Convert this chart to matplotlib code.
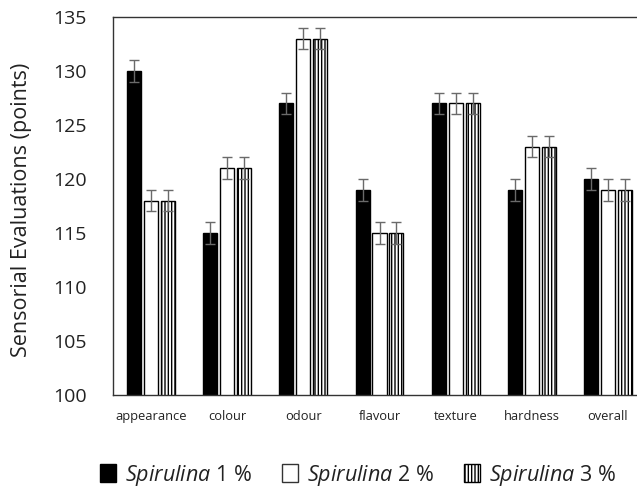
import matplotlib
matplotlib.use("Agg")
import matplotlib.pyplot as plt
import numpy as np
from matplotlib.patches import Patch

categories = ["appearance", "colour", "odour", "flavour", "texture", "hardness", "overall"]
spirulina_1 = [130, 115, 127, 119, 127, 119, 120]
spirulina_2 = [118, 121, 133, 115, 127, 123, 119]
spirulina_3 = [118, 121, 133, 115, 127, 123, 119]
err_1 = [1, 1, 1, 1, 1, 1, 1]
err_2 = [1, 1, 1, 1, 1, 1, 1]
err_3 = [1, 1, 1, 1, 1, 1, 1]
series_names = ["1 %", "2 %", "3 %"]
yticks = [100, 105, 110, 115, 120, 125, 130, 135]

FONT = 'Open Sans'
plt.rcParams['font.family'] = [FONT, 'DejaVu Sans']
plt.rcParams['mathtext.fontset'] = 'custom'
plt.rcParams['mathtext.it'] = FONT + ':italic'
plt.rcParams['mathtext.rm'] = FONT
plt.rcParams['hatch.linewidth'] = 1.0

fig = plt.figure(figsize=(6.37, 4.95), dpi=100)
W, H = 637, 495
left, right, top, bottom = 113, 646, 17, 395
ax = fig.add_axes([left / W, 1 - bottom / H, (right - left) / W, (bottom - top) / H])

x = np.arange(len(categories))
width = 0.185
off = 0.222
ekw = dict(ecolor="#6a6a6a", elinewidth=1.0, capsize=3.5, capthick=1.0)
ax.bar(x - off, spirulina_1, width, color="black", edgecolor="black", linewidth=1,
       yerr=err_1, error_kw=ekw)
ax.bar(x, spirulina_2, width, color="white", edgecolor="black", linewidth=1,
       yerr=err_2, error_kw=ekw)
ax.bar(x + off, spirulina_3, width, color="white", edgecolor="black", linewidth=1,
       hatch="|||||", yerr=err_3, error_kw=ekw)

ax.set_ylim(100, 135)
ax.set_xlim(-0.5, len(categories) - 0.5)
ax.set_yticks(yticks)
ax.set_yticklabels([str(t) for t in yticks], fontsize=14, color="#222222")
ax.tick_params(axis='y', length=0, pad=19)
ax.set_xticks(x)
ax.set_xticklabels(categories, fontsize=9.3, color="#222222")
ax.tick_params(axis='x', length=0, pad=11)
for s in ax.spines.values():
    s.set_color("#333333")
    s.set_linewidth(1.0)

fig.text(22 / W, 1 - 210 / H, "Sensorial Evaluations (points)", rotation=90, ha="center", va="center",
         fontsize=15.5, color="#222222")

handles = [Patch(facecolor="black", edgecolor="black"),
           Patch(facecolor="white", edgecolor="#333333"),
           Patch(facecolor="white", edgecolor="black", hatch="|||||")]
labels = [r"$\mathit{Spirulina}$ " + n for n in series_names]
leg = fig.legend(handles, labels, loc="center", bbox_to_anchor=(358 / W, 1 - 475 / H), ncol=3,
                 frameon=False, fontsize=15.5, handlelength=0.75, handleheight=0.85,
                 handletextpad=0.4, columnspacing=1.4)
for t in leg.get_texts():
    t.set_color("#222222")

fig.savefig("out.png", dpi=100)
